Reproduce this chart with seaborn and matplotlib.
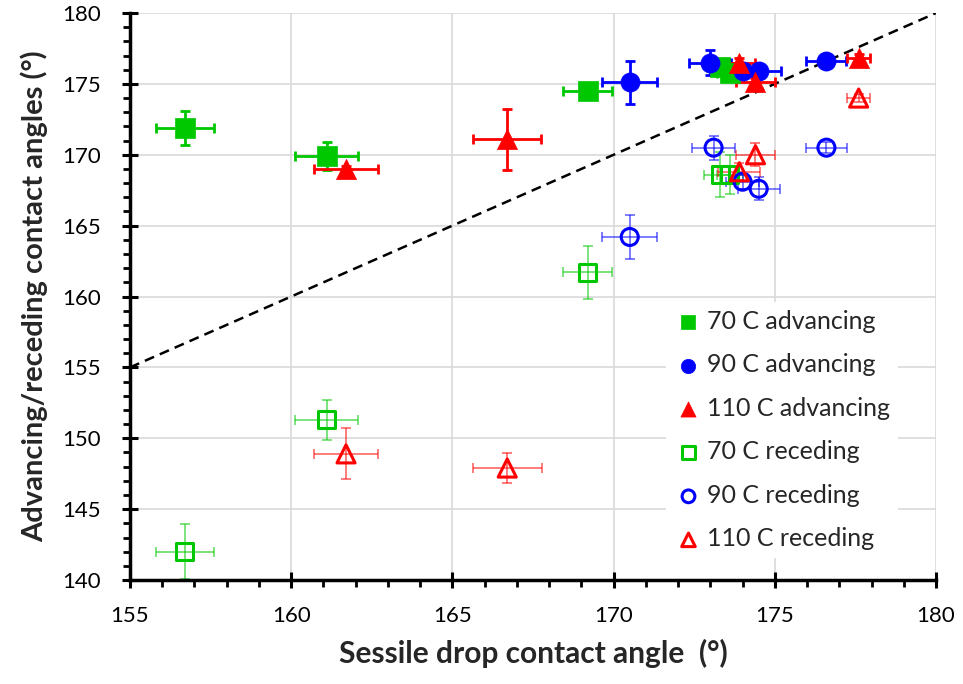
import numpy as np
import pandas as pd
import matplotlib
matplotlib.use('Agg')
import matplotlib.pyplot as plt
import seaborn as sns
from matplotlib.ticker import MultipleLocator

# Datos: ángulo sésil (x) vs. ángulo de avance/retroceso (y)
# 70 C avance
x70a = [156.7, 161.1, 169.2, 173.3, 173.6]
y70a = [171.9, 169.9, 174.5, 176.2, 175.8]
xe70a = [0.9, 0.97, 0.76, 0.4, 0.4]
ye70a = [1.2, 1.0, 0.4, 0.5, 0.5]
# 90 C avance
x90a = [170.5, 173.0, 174.0, 174.5, 176.6]
y90a = [175.1, 176.5, 175.9, 175.9, 176.6]
xe90a = [0.85, 0.65, 0.5, 0.7, 0.62]
ye90a = [1.5, 0.9, 0.4, 0.4, 0.4]
# 110 C avance
x110a = [161.7, 166.7, 173.9, 174.4, 177.6]
y110a = [169.0, 171.1, 176.5, 175.1, 176.8]
xe110a = [1.0, 1.05, 0.5, 0.6, 0.35]
ye110a = [0.2, 2.15, 0.3, 0.3, 0.3]
# 70 C retroceso
x70r = [156.7, 161.1, 169.2, 173.3, 173.6]
y70r = [142.0, 151.3, 161.7, 168.6, 168.6]
xe70r = [0.9, 0.97, 0.76, 0.5, 0.4]
ye70r = [1.95, 1.4, 1.85, 1.6, 1.35]
# 90 C retroceso
x90r = [170.5, 173.1, 174.0, 174.5, 176.6]
y90r = [164.2, 170.5, 168.1, 167.6, 170.5]
xe90r = [0.85, 0.67, 0.5, 0.65, 0.63]
ye90r = [1.55, 0.85, 0.5, 0.8, 0.4]
# 110 C retroceso
x110r = [161.7, 166.7, 173.9, 174.4, 177.6]
y110r = [148.9, 147.9, 168.8, 170.0, 174.0]
xe110r = [1.0, 1.07, 0.65, 0.6, 0.35]
ye110r = [1.8, 1.05, 0.6, 0.8, 0.3]

verde = '#00c800'
azul = '#0000ff'
rojo = '#ff0000'

series = [
    ('70 C advancing', x70a, y70a, xe70a, ye70a, verde, 's', True),
    ('90 C advancing', x90a, y90a, xe90a, ye90a, azul, 'o', True),
    ('110 C advancing', x110a, y110a, xe110a, ye110a, rojo, '^', True),
    ('70 C receding', x70r, y70r, xe70r, ye70r, verde, 's', False),
    ('90 C receding', x90r, y90r, xe90r, ye90r, azul, 'o', False),
    ('110 C receding', x110r, y110r, xe110r, ye110r, rojo, '^', False),
]

sns.set_theme(style='white')
plt.rcParams['font.family'] = ['Lato', 'DejaVu Sans']

fig = plt.figure(figsize=(9.63, 6.84), dpi=100)
ax = fig.add_axes([0.135, 0.152, 0.837, 0.829])

# Línea y = x
ax.plot([155, 180], [155, 180], ls='--', color='black', lw=1.8, dashes=(4, 2.5), zorder=1)

for nombre, xs, ys, xe, ye, color, marca, lleno in series:
    df = pd.DataFrame({'x': xs, 'y': ys})
    ax.errorbar(xs, ys, xerr=xe, yerr=ye, fmt='none', ecolor=color,
                elinewidth=2.0 if lleno else 1.2, capsize=3.5,
                capthick=2.0 if lleno else 1.2, alpha=1.0 if lleno else 0.6, zorder=2)
    if lleno:
        sns.scatterplot(data=df, x='x', y='y', marker=marca, s=190 if marca != '^' else 210,
                        color=color, edgecolor=color, linewidth=0.5, label=nombre, ax=ax, zorder=3)
    else:
        sns.scatterplot(data=df, x='x', y='y', marker=marca, s=150 if marca != '^' else 170,
                        facecolor='none', edgecolor=color, linewidth=2.2, label=nombre, ax=ax, zorder=3)

ax.set_xlim(155, 180)
ax.set_ylim(140, 180)
ax.xaxis.set_major_locator(MultipleLocator(5))
ax.yaxis.set_major_locator(MultipleLocator(5))
ax.xaxis.set_minor_locator(MultipleLocator(1))
ax.yaxis.set_minor_locator(MultipleLocator(1))
ax.grid(True, which='major', color='#d9d9d9', lw=1.2)
ax.set_axisbelow(True)

for lado in ['top', 'right']:
    ax.spines[lado].set_visible(False)
for lado in ['left', 'bottom']:
    ax.spines[lado].set_color('black')
    ax.spines[lado].set_linewidth(2.5)

ax.tick_params(axis='both', which='major', direction='inout', length=12, width=2.2,
               color='black', labelsize=16, labelcolor='black', left=True, bottom=True)
ax.tick_params(axis='x', which='major', pad=13)
ax.tick_params(axis='y', which='major', pad=15)
ax.tick_params(axis='both', which='minor', direction='out', length=5, width=2.0,
               color='black', left=True, bottom=True)

ax.set_xlabel('Sessile drop contact angle  (°)', fontsize=21.5, fontweight='bold', labelpad=9)
ax.set_ylabel('Advancing/receding contact angles (°)', fontsize=21, fontweight='bold', labelpad=10)

leg = ax.legend(loc='lower right', bbox_to_anchor=(0.968, 0.017), fontsize=18,
                frameon=True, framealpha=1, edgecolor='white', facecolor='white',
                labelspacing=0.82, handletextpad=0.15, handlelength=1.2,
                borderpad=0.3, markerscale=0.75)
leg.get_frame().set_linewidth(0)

fig.savefig('out.png', dpi=100)
